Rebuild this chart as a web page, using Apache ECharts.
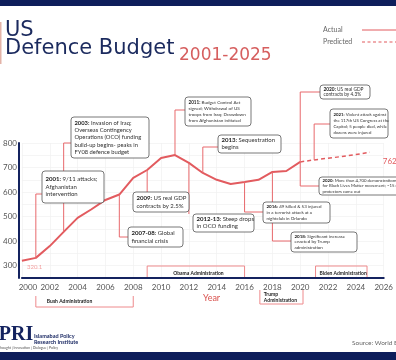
<!DOCTYPE html>
<html><head><meta charset="utf-8">
<script src="https://cdn.jsdelivr.net/npm/echarts@6/dist/echarts.min.js"></script>
<style>html,body{margin:0;padding:0;background:#fff}#c{width:396px;height:360px}</style>
</head><body><div id="c"></div>
<script>
// ---- data ----
const actualYears = [2000,2001,2002,2003,2004,2005,2006,2007,2008,2009,2010,2011,2012,2013,2014,2015,2016,2017,2018,2019,2020];
const actualValues = [320.1,332,380,438,495,530,568,590,658,690,739,751,719,678,650,633,641,650,682,686,723];
const predictedYears = [2020,2021,2022,2023,2024,2025];
const predictedValues = [723,731,738,745,753,762];
const yTicks = [300,400,500,600,700,800];
const adminNames = ['Bush Administration','Obama Administration','Trump\nAdministration','Biden Administration'];
const adminSpans = [[2001,2008],[2009,2016],[2017.1,2020.2],[2021.1,2024.8]];

const RED = '#e25b5f', NAVY = '#14235f', FONT = 'Lato';
const chart = echarts.init(document.getElementById('c'), null, {renderer:'canvas'});

const opt = {
  animation:false,
  grid:{left:21, right:-2, top:143, bottom:82},
  xAxis:{type:'value', min:2000, max:2026, interval:2,
    axisLine:{lineStyle:{color:NAVY,width:2}}, axisTick:{show:false},
    axisLabel:{color:'#555', fontSize:8, fontFamily:FONT, margin:5,
      formatter:v=> v===2000 ? '{p|2000}' : String(v), rich:{p:{padding:[0,0,0,12],fontSize:8,color:'#555',fontFamily:FONT}}},
    splitLine:{show:true, lineStyle:{color:'#f3f3f3',width:0.8}}},
  yAxis:{type:'value', min:250, max:800, interval:50, offset:3,
    axisLine:{show:true,lineStyle:{color:NAVY,width:2}}, axisTick:{show:false},
    axisLabel:{color:'#555', fontSize:8, fontFamily:FONT, margin:2,
      formatter:v=> yTicks.indexOf(v)>=0 ? String(v) : ''},
    splitLine:{show:true, lineStyle:{color:'#f3f3f3',width:0.8}}},
  series:[
    {type:'line', data:actualYears.map((y,i)=>[y,actualValues[i]]), showSymbol:false, symbol:'none',
     lineStyle:{color:RED,width:2}, z:5,
     markPoint:{symbol:'circle',symbolSize:0,data:[{coord:[actualYears[0],actualValues[0]],value:actualValues[0],
       label:{show:true,position:'right',offset:[0,6],color:'#f3a0a0',fontSize:6,fontFamily:FONT,formatter:'{c}'}}]}},
    {type:'line', data:predictedYears.map((y,i)=>[y,predictedValues[i]]), showSymbol:false, symbol:'none',
     lineStyle:{color:RED,width:1.5,type:[4,3]}, z:5,
     markPoint:{symbol:'circle',symbolSize:0,data:[{coord:[predictedYears[5],predictedValues[5]],value:predictedValues[5],
       label:{show:true,position:'right',offset:[8,9],color:RED,fontSize:8,fontFamily:FONT,formatter:'{c}'}}]}}
  ]
};
chart.setOption(opt);

// ---- annotations ----
const notes = [
  {year:2001, kind:'side', sy:194, box:[42,171,62,32], fs:6, lh:7.5, lines:['{b|2001:} 9/11 attacks;','Afghanistan','intervention']},
  {year:2003, kind:'side', sy:143, box:[71,117,78,41], fs:5.8, lh:7.4, lines:['{b|2003:} Invasion of Iraq;','Overseas Contingency','Operations (OCO) funding','build-up begins- peaks in','FY08 defence budget']},
  {year:2007, kind:'side', sy:237, box:[128,227,55,20], fs:6, lh:7.2, lines:['{b|2007-08:} Global','financial crisis']},
  {year:2009, kind:'top', box:[133,192,56,20], fs:6, lh:7.2, lines:['{b|2009:} US real GDP','contracts by 2.5%']},
  {year:2011, kind:'side', sy:110, box:[185,97,66,29], fs:4.6, lh:6.2, lines:['{b|2011:} Budget Control Act','signed; Withdrawal of US','troops from Iraq; Drawdown','from Afghanistan initiated']},
  {year:2012, kind:'top', box:[193,214,61,18], fs:6, lh:7, lines:['{b|2012-13:} Steep drops','in OCO funding']},
  {year:2013, kind:'side', sy:147, box:[218,135,63,18], fs:6, lh:7, lines:['{b|2013:} Sequestration','begins']},
  {year:2016, kind:'side', sy:212, box:[263,202,67,21], fs:4.5, lh:5.8, lines:['{b|2016:} 49 killed & 53 injured','in a terrorist attack at a','nightclub in Orlando']},
  {year:2018, kind:'side', sy:241, box:[291,232,66,20], fs:4.5, lh:5.8, lines:['{b|2018:} Significant increase','enacted by Trump','administration']},
  {year:2020, kind:'side', sy:92, box:[320,85,50,14], fs:4.8, lh:5.6, lines:['{b|2020:} US real GDP','contracts by 4.3%']},
  {year:2021, kind:'side', sy:124, box:[330,109,58,29], fs:4.3, lh:6, pred:true, lines:['{b|2021:} Violent attack against','the 117th US Congress at the','Capitol; 5 people died, while','dozens were injured']},
  {year:2020, kind:'side', sy:186, box:[319,177,82,18], fs:4.3, lh:5.4, lines:['{b|2020:} More than 4,700 demonstrations','for Black Lives Matter movement; ~15 million','protestors came out']}
];

function valAt(year, pred){
  const ys = pred?predictedYears:actualYears, vs = pred?predictedValues:actualValues;
  return vs[ys.indexOf(year)];
}
const g = [];
// bars
g.push({type:'rect',shape:{x:0,y:0,width:396,height:6},style:{fill:'#0e1e5b'},z:100});
g.push({type:'rect',shape:{x:0,y:352,width:396,height:8},style:{fill:'#0e1e5b'},z:100});
g.push({type:'rect',shape:{x:0,y:22,width:1.5,height:42},style:{fill:'#e3b3a8'},z:100});
// title
g.push({type:'text',left:5,top:20,style:{text:'US',font:'21px "DejaVu Sans"',fill:'#1b2a5e'},z:100});
g.push({type:'text',left:5,top:38,style:{text:'Defence Budget',font:'21px "DejaVu Sans"',fill:'#1b2a5e'},z:100});
g.push({type:'text',left:179,top:47,style:{text:'2001-2025',font:'17px "DejaVu Sans"',fill:'#d65f5f'},z:100});
// legend
g.push({type:'text',x:323,y:30,style:{text:'Actual',font:'7px Lato',fill:'#666',verticalAlign:'middle'},z:100});
g.push({type:'text',x:323,y:42,style:{text:'Predicted',font:'7px Lato',fill:'#666',verticalAlign:'middle'},z:100});
g.push({type:'line',shape:{x1:362,y1:30,x2:396,y2:30},style:{stroke:RED,lineWidth:1},z:100});
g.push({type:'line',shape:{x1:362,y1:42,x2:396,y2:42},style:{stroke:RED,lineWidth:1.2,lineDash:[3,2.5]},z:100});
// Year label
g.push({type:'text',x:203,y:298,style:{text:'Year',font:'9px Lato',fill:'#d9534f',verticalAlign:'middle'},z:100});

notes.forEach(n=>{
  const p = chart.convertToPixel({gridIndex:0},[n.year, valAt(n.year, n.pred)]);
  const [bx,by,bw,bh] = n.box;
  let pts;
  if(n.kind==='top'){ pts=[[p[0],p[1]],[p[0],by]]; }
  else { pts=[[p[0],p[1]],[p[0],n.sy],[bx,n.sy]]; }
  g.push({type:'polyline',shape:{points:pts},style:{stroke:'#e8696c',lineWidth:1,fill:null},z:20});
  g.push({type:'rect',shape:{x:bx,y:by,width:bw,height:bh,r:3},style:{fill:'#fff',stroke:'#555',lineWidth:0.8},z:30});
  const rich = {b:{fontWeight:'bold',fontSize:n.fs,fontFamily:FONT,fill:'#222',lineHeight:n.lh},
                n:{fontSize:n.fs,fontFamily:FONT,fill:'#333',lineHeight:n.lh}};
  const txt = n.lines.map(l=> l.replace(/^(\{b\|[^}]*\})?(.*)$/, (m,a,b)=> (a||'') + '{n|'+b+'}')).join('\n');
  g.push({type:'text',x:bx+3.5,y:by+(bh-n.lh*n.lines.length)/2,style:{text:txt,rich:rich,fontSize:n.fs,fontFamily:FONT,fill:'#333',verticalAlign:'top'},z:31});
});

// administrations
const adminBelow = [true,false,true,false];
adminSpans.forEach((s,i)=>{
  const a = chart.convertToPixel({gridIndex:0},[s[0],300])[0];
  const b = chart.convertToPixel({gridIndex:0},[s[1],300])[0];
  let pts, ty;
  if(adminBelow[i]){
    const top = i===0?296:290, bot = i===0?307:304;
    pts=[[a,top],[a,bot],[b,bot],[b,top]];
    ty = i===0?298:291;
  } else {
    const top=266, bot=277;
    pts=[[a,bot],[a,top],[b,top],[b,bot]];
    ty = 270;
  }
  g.push({type:'polyline',shape:{points:pts},style:{stroke:'#ee8a8c',lineWidth:1,fill:null},z:20});
  const tx = i===0? a+11 : i===1? a+26 : a+4;
  g.push({type:'text',x:tx,y:ty,style:{text:adminNames[i],font:'bold 5px Lato',fill:'#222',lineHeight:6,verticalAlign:'top'},z:21});
});

// footer
g.push({type:'text',x:-9,y:325,style:{text:'IPRI',font:'bold 20px "Liberation Serif"',fill:'#14235f',verticalAlign:'top'},z:100});
g.push({type:'text',x:34,y:333,style:{text:'Islamabad Policy\nResearch Institute',font:'bold 5.5px Lato',fill:'#14235f',lineHeight:6,verticalAlign:'top'},z:100});
g.push({type:'text',x:-2,y:346,style:{text:'Thought | Innovation | Dialogue | Policy',font:'3.5px Lato',fill:'#555',verticalAlign:'top'},z:100});
g.push({type:'text',x:352,y:343,style:{text:'Source: World Bank',font:'6.5px Lato',fill:'#666',verticalAlign:'middle'},z:100});

chart.setOption({graphic:g});
</script></body></html>
